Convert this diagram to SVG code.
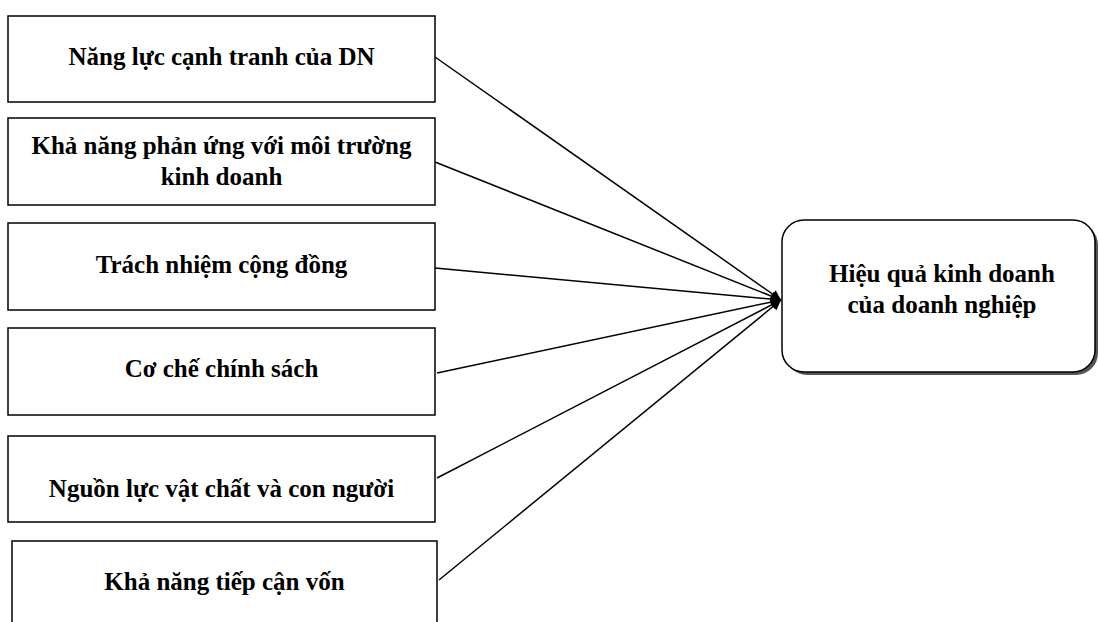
<svg xmlns="http://www.w3.org/2000/svg" width="1099" height="622" viewBox="0 0 1099 622">
<defs>
<style>
.box{fill:#fff;stroke:#000;stroke-width:1.5}
.t{font-family:"Liberation Serif","Times New Roman",serif;font-weight:bold;font-size:25px;fill:#000;text-anchor:middle}
.c{stroke:#000;stroke-width:1.5;fill:none;marker-end:url(#ah)}
</style>
<marker id="ah" viewBox="0 0 10 10" refX="10" refY="5" markerWidth="14" markerHeight="10" markerUnits="userSpaceOnUse" orient="auto">
<path d="M0,0 L10,5 L0,10 z" fill="#000"/>
</marker>
</defs>
<rect width="1099" height="622" fill="#fff"/>
<g id="connectors">
<line class="c" x1="435" y1="57" x2="781" y2="300"/>
<line class="c" x1="435" y1="162" x2="781" y2="300"/>
<line class="c" x1="435" y1="268" x2="781" y2="300"/>
<line class="c" x1="437" y1="373" x2="781" y2="300"/>
<line class="c" x1="437" y1="478" x2="781" y2="300"/>
<line class="c" x1="439" y1="580" x2="781" y2="300"/>
</g>
<g id="n1"><rect class="box" x="8" y="16" width="427" height="86"/><text class="t" x="221.5" y="65">Năng lực cạnh tranh của DN</text></g>
<g id="n2"><rect class="box" x="8" y="118" width="427" height="87"/><text class="t" x="221.5" y="154">Khả năng phản ứng với môi trường</text><text class="t" x="221.5" y="185">kinh doanh</text></g>
<g id="n3"><rect class="box" x="8" y="223" width="427" height="87"/><text class="t" x="221.5" y="273">Trách nhiệm cộng đồng</text></g>
<g id="n4"><rect class="box" x="8" y="328" width="427" height="87"/><text class="t" x="221.5" y="377">Cơ chế chính sách</text></g>
<g id="n5"><rect class="box" x="8" y="436" width="427" height="86"/><text class="t" x="221.5" y="497">Nguồn lực vật chất và con người</text></g>
<g id="n6"><rect class="box" x="12" y="541" width="425" height="95"/><text class="t" x="224.5" y="590">Khả năng tiếp cận vốn</text></g>
<g id="n7">
<rect x="785" y="223" width="313" height="152" rx="22" fill="#555"/>
<rect class="box" x="782" y="220" width="313" height="152" rx="22"/>
<text class="t" x="942" y="282">Hiệu quả kinh doanh</text>
<text class="t" x="942" y="313">của doanh nghiệp</text>
</g>
</svg>
